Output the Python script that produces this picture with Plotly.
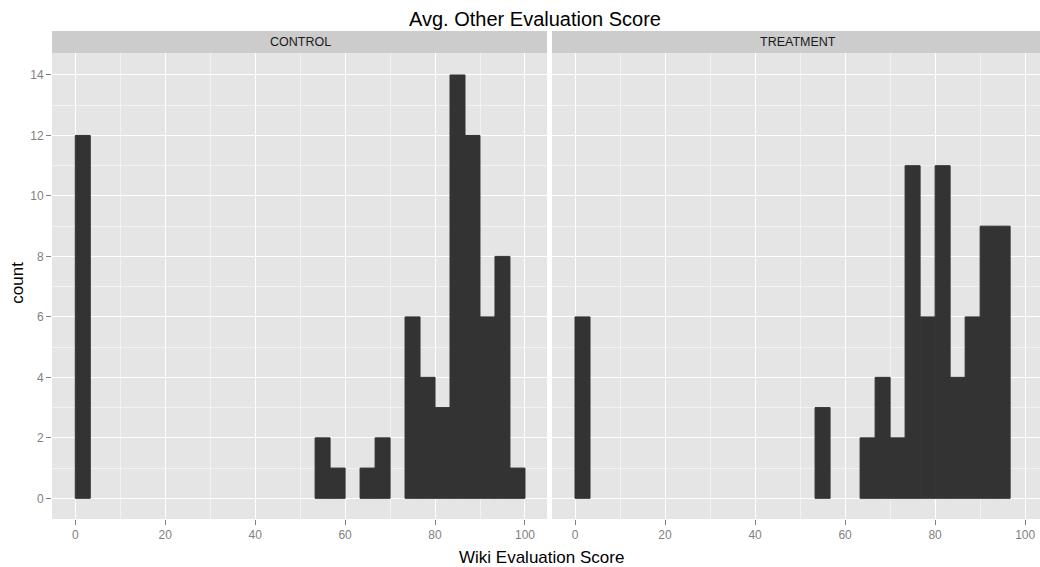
"""
Faceted histogram of the average 'other' evaluation score, control vs treatment
"""
import plotly.graph_objects as go

# Histogram bins (left edges) and counts, bin width 100/30
BIN_WIDTH = 100 / 30

control_bins = [0, 53.33, 56.67, 63.33, 66.67, 73.33, 76.67, 80, 83.33, 86.67, 90, 93.33, 96.67]
control_counts = [12, 2, 1, 1, 2, 6, 4, 3, 14, 12, 6, 8, 1]

treatment_bins = [0, 53.33, 63.33, 66.67, 70, 73.33, 76.67, 80, 83.33, 86.67, 90, 93.33]
treatment_counts = [6, 3, 2, 4, 2, 11, 6, 11, 4, 6, 9, 9]

facet_labels = ["CONTROL", "TREATMENT"]
x_ticks = [0, 20, 40, 60, 80, 100]
y_ticks = [0, 2, 4, 6, 8, 10, 12, 14]

FONT = "Liberation Sans, Arial, sans-serif"
BAR_COLOR = "#333333"
PANEL_BG = "#E5E5E5"
STRIP_BG = "#CCCCCC"
TICK_COLOR = "#7F7F7F"

# panel layout in paper coordinates (plot area is 988 x 488 px)
PANEL_TOP = 466 / 488
LEFT_DOMAIN = [0, 495 / 988]
RIGHT_DOMAIN = [500 / 988, 1]


def axis_style(**extra):
    """Shared ggplot-like axis styling."""
    style = dict(
        showgrid=True,
        gridcolor="white",
        gridwidth=1.2,
        zeroline=False,
        showline=False,
        ticks="outside",
        ticklen=5,
        tickwidth=1,
        tickcolor=TICK_COLOR,
        tickfont=dict(family=FONT, size=12, color=TICK_COLOR),
    )
    style.update(extra)
    return style


fig = go.Figure()

# thin outline in the fill colour hides the seams between neighbouring bins
fig.add_trace(go.Bar(
    x=control_bins, y=control_counts,
    width=BIN_WIDTH, offset=0,
    marker=dict(color=BAR_COLOR, line=dict(width=1, color=BAR_COLOR)),
    xaxis="x", yaxis="y",
    showlegend=False,
))
fig.add_trace(go.Bar(
    x=treatment_bins, y=treatment_counts,
    width=BIN_WIDTH, offset=0,
    marker=dict(color=BAR_COLOR, line=dict(width=1, color=BAR_COLOR)),
    xaxis="x2", yaxis="y2",
    showlegend=False,
))

minor_x = dict(tick0=0, dtick=10, showgrid=True, gridcolor="#F2F2F2", gridwidth=1, ticks="")
minor_y = dict(tick0=0, dtick=1, showgrid=True, gridcolor="#F2F2F2", gridwidth=1, ticks="")

fig.update_layout(
    width=1040,
    height=567,
    margin=dict(l=52, r=0, t=31, b=48),
    paper_bgcolor="white",
    plot_bgcolor=PANEL_BG,
    font=dict(family=FONT, color="black"),
    xaxis=axis_style(domain=LEFT_DOMAIN, range=[-5.18, 104.9], tickvals=x_ticks,
                     minor=minor_x, anchor="y"),
    xaxis2=axis_style(domain=RIGHT_DOMAIN, range=[-5.11, 103.3], tickvals=x_ticks,
                      minor=minor_x, anchor="y2"),
    yaxis=axis_style(domain=[0, PANEL_TOP], range=[-0.684, 14.727], tickvals=y_ticks,
                     minor=minor_y, anchor="x"),
    yaxis2=axis_style(domain=[0, PANEL_TOP], range=[-0.684, 14.727], tickvals=y_ticks,
                      minor=minor_y, anchor="x2", matches="y",
                      showticklabels=False, ticks=""),
)

# facet strips
for domain in (LEFT_DOMAIN, RIGHT_DOMAIN):
    fig.add_shape(type="rect", xref="paper", yref="paper",
                  x0=domain[0], x1=domain[1], y0=PANEL_TOP, y1=1,
                  fillcolor=STRIP_BG, line=dict(width=0), layer="below")

for label, xpos in zip(facet_labels, [248 / 988, 746 / 988]):
    fig.add_annotation(text=label, x=xpos, y=0.9775, xref="paper", yref="paper",
                       showarrow=False, xanchor="center", yanchor="middle",
                       font=dict(family=FONT, size=12.5, color="#1A1A1A"))

# titles
fig.add_annotation(text="Avg. Other Evaluation Score", x=0.4884, y=1.0246,
                   xref="paper", yref="paper", showarrow=False,
                   xanchor="center", yanchor="middle",
                   font=dict(family=FONT, size=20, color="black"))
fig.add_annotation(text="Wiki Evaluation Score", x=0.495, y=-0.0779,
                   xref="paper", yref="paper", showarrow=False,
                   xanchor="center", yanchor="middle",
                   font=dict(family=FONT, size=17, color="black"))
fig.add_annotation(text="count", x=-0.0357, y=0.4836, textangle=-90,
                   xref="paper", yref="paper", showarrow=False,
                   xanchor="center", yanchor="middle",
                   font=dict(family=FONT, size=17, color="black"))

# drop the browser's default 8px body margin so the figure fills the window
fig.write_html("out.html", config={"displayModeBar": False},
               post_script="document.body.style.margin='0';")
